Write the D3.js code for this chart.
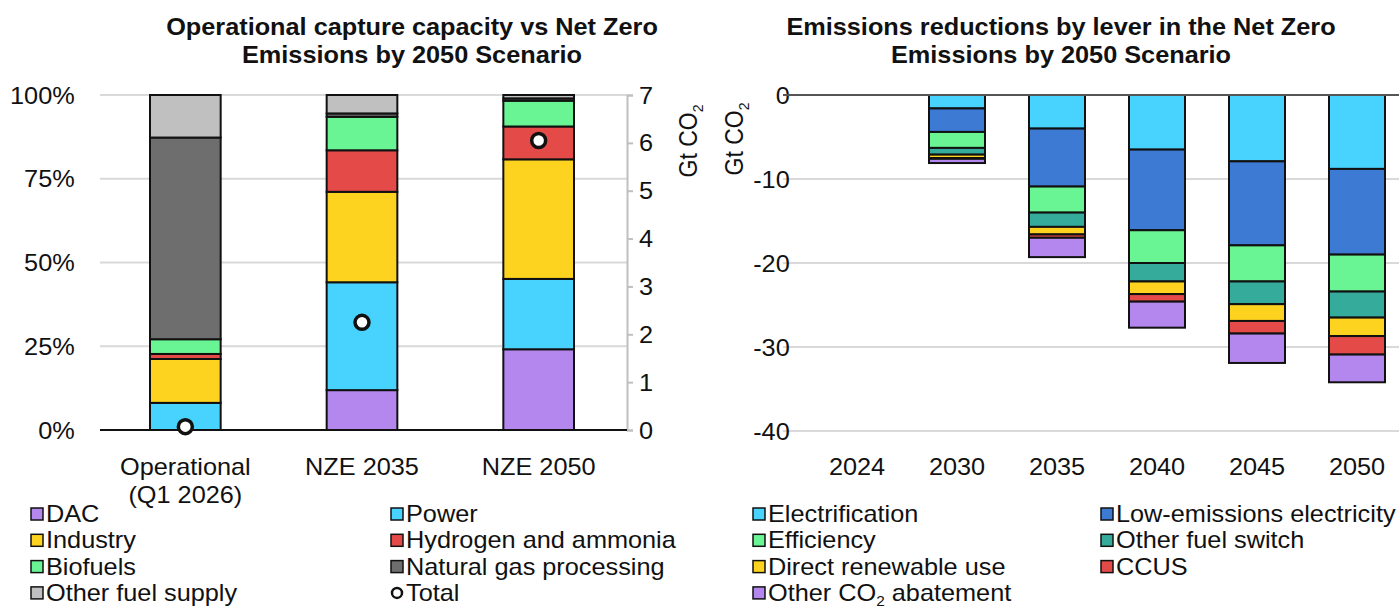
<!DOCTYPE html>
<html>
<head>
<meta charset="utf-8">
<script src="https://cdn.jsdelivr.net/npm/d3@7"></script>
<style>
  body { margin: 0; background: #fff; }
  svg text { font-family: "Liberation Sans", Arial, sans-serif; fill: #111; }
</style>
</head>
<body>
<svg></svg>
<script>
// left chart: share of capture capacity by sector (%), total in Gt CO2
var capCategories = ["Operational|(Q1 2026)", "NZE 2035", "NZE 2050"];
var dac           = [0, 11.9, 24.1];
var power         = [8.1, 32.2, 21.0];
var industry      = [13.1, 27.0, 35.7];
var hydrogen      = [1.5, 12.4, 9.8];
var biofuels      = [4.4, 10.0, 7.7];
var gasProcessing = [60.2, 1.0, 0.7];
var otherSupply   = [12.7, 5.5, 1.0];
var capTotal      = [0.07, 2.25, 6.05];
var pctTicks = [0, 25, 50, 75, 100];
var gtTicks = [0, 1, 2, 3, 4, 5, 6, 7];

// right chart: emissions reductions by lever (Gt CO2)
var years            = ["2024", "2030", "2035", "2040", "2045", "2050"];
var electrification  = [0, -1.6, -4.0, -6.5, -7.9, -8.8];
var lowEmElectricity = [0, -2.8, -6.9, -9.6, -10.0, -10.2];
var efficiency       = [0, -1.9, -3.1, -3.9, -4.3, -4.4];
var otherFuelSwitch  = [0, -0.8, -1.7, -2.2, -2.7, -3.1];
var directRenewable  = [0, -0.4, -0.9, -1.5, -2.0, -2.2];
var ccus             = [0, -0.1, -0.4, -0.9, -1.5, -2.2];
var otherAbatement   = [0, -0.5, -2.3, -3.1, -3.5, -3.3];
var redTicks = [0, -10, -20, -30, -40];

var width = 1399, height = 609;
var SX = 1.1; // text in the picture is a bit wide
var FS = 23;

var svg = d3.select("svg").attr("width", width).attr("height", height);

var col = {
  purple: "#b387ee", sky: "#48d3ff", yellow: "#fdd320", red: "#e44b48",
  green: "#6af595", dark: "#6e6e6e", grey: "#c0c0c0", blue: "#3c7ad3", teal: "#35ab9c"
};

// helper for stretched text
var label = function(parent, x, y, s, opts) {
  opts = opts || {};
  var t = parent.append("text")
    .attr("transform", "translate(" + x + "," + y + ") scale(" + SX + ",1)" + (opts.rotate ? " rotate(" + opts.rotate + ")" : ""))
    .attr("text-anchor", opts.anchor || "start")
    .style("font-size", (opts.size || FS) + "px")
    .style("font-weight", opts.bold ? "bold" : "normal")
    .text(s);
  return t;
};

// ---------- left chart ----------
var capSeries = [
  {name: "DAC", values: dac, color: col.purple},
  {name: "Power", values: power, color: col.sky},
  {name: "Industry", values: industry, color: col.yellow},
  {name: "Hydrogen and ammonia", values: hydrogen, color: col.red},
  {name: "Biofuels", values: biofuels, color: col.green},
  {name: "Natural gas processing", values: gasProcessing, color: col.dark},
  {name: "Other fuel supply", values: otherSupply, color: col.grey}
];
var capRows = capCategories.map(function(c, i) {
  var row = {cat: c};
  capSeries.forEach(function(s) { row[s.name] = s.values[i]; });
  return row;
});

var xL = d3.scaleBand().domain(capCategories).range([97, 627]).paddingInner(0.6).paddingOuter(0.3);
var yL = d3.scaleLinear().domain([0, 100]).range([430, 95]);
var yR = d3.scaleLinear().domain([0, 7]).range([430, 95]);

var left = svg.append("g");

left.append("g").selectAll("line").data(pctTicks.slice(1)).enter().append("line")
  .attr("x1", 100).attr("x2", 627)
  .attr("y1", d => yL(d)).attr("y2", d => yL(d))
  .attr("stroke", "#d9d9d9").attr("stroke-width", 2);

var yAxisL = left.append("g").attr("transform", "translate(78,0)")
  .call(d3.axisLeft(yL).tickValues(pctTicks).tickSize(0).tickPadding(3).tickFormat(d => d + "%"));
yAxisL.select(".domain").remove();
yAxisL.selectAll("text").style("font-size", FS + "px").attr("transform", "scale(" + SX + ",1)").attr("dy", "0.35em");

var yAxisR = left.append("g").attr("transform", "translate(627,0)")
  .call(d3.axisRight(yR).tickValues(gtTicks).tickSize(6).tickPadding(5).tickFormat(d => String(d)));
yAxisR.select(".domain").attr("stroke", "#bfbfbf").attr("stroke-width", 2);
yAxisR.selectAll(".tick line").attr("stroke", "#bfbfbf").attr("stroke-width", 2);
yAxisR.selectAll("text").style("font-size", FS + "px").attr("transform", "scale(" + SX + ",1)").attr("dy", "0.35em");

var capStack = d3.stack().keys(capSeries.map(s => s.name))(capRows);
left.append("g").selectAll("g").data(capStack).enter().append("g")
  .attr("fill", (d, i) => capSeries[i].color)
  .selectAll("rect").data(d => d.filter(p => p[1] - p[0] > 0)).enter().append("rect")
  .attr("x", d => xL(d.data.cat))
  .attr("width", xL.bandwidth())
  .attr("y", d => yL(d[1]))
  .attr("height", d => yL(d[0]) - yL(d[1]))
  .attr("stroke", "#111").attr("stroke-width", 2);

left.append("line").attr("x1", 100).attr("x2", 627).attr("y1", yL(0)).attr("y2", yL(0))
  .attr("stroke", "#111").attr("stroke-width", 2);

left.append("g").selectAll("circle").data(capCategories).enter().append("circle")
  .attr("cx", d => xL(d) + xL.bandwidth() / 2)
  .attr("cy", (d, i) => yR(capTotal[i]))
  .attr("r", 7).attr("fill", "#fff").attr("stroke", "#111").attr("stroke-width", 3.5);

var xAxisL = left.append("g").attr("transform", "translate(0,457)")
  .call(d3.axisBottom(xL).tickSize(0).tickPadding(0));
xAxisL.select(".domain").remove();
xAxisL.selectAll("text").each(function(d) {
  var t = d3.select(this).text(null).attr("y", 0).attr("dy", null)
    .attr("transform", "scale(" + SX + ",1)").style("font-size", FS + "px");
  d.split("|").forEach(function(line, i) {
    t.append("tspan").attr("x", 0).attr("y", 18 + i * 28).text(line);
  });
});

label(left, 412, 35, "Operational capture capacity vs Net Zero", {anchor: "middle", bold: true});
label(left, 412, 63, "Emissions by 2050 Scenario", {anchor: "middle", bold: true});
var gt1 = label(left, 697, 141, "Gt CO", {anchor: "middle", rotate: -90});
gt1.append("tspan").attr("dy", 5).style("font-size", "14px").text("2");

// ---------- right chart ----------
var redSeries = [
  {name: "Electrification", values: electrification, color: col.sky},
  {name: "Low-emissions electricity", values: lowEmElectricity, color: col.blue},
  {name: "Efficiency", values: efficiency, color: col.green},
  {name: "Other fuel switch", values: otherFuelSwitch, color: col.teal},
  {name: "Direct renewable use", values: directRenewable, color: col.yellow},
  {name: "CCUS", values: ccus, color: col.red},
  {name: "Other CO2 abatement", values: otherAbatement, color: col.purple}
];
var redRows = years.map(function(y, i) {
  var row = {year: y};
  redSeries.forEach(function(s) { row[s.name] = s.values[i]; });
  return row;
});

var xRc = d3.scaleBand().domain(years).range([807, 1407]).paddingInner(0.44).paddingOuter(0.22);
var yRc = d3.scaleLinear().domain([-40, 0]).range([431, 95]);

var right = svg.append("g");

right.append("g").selectAll("line").data(redTicks.slice(1)).enter().append("line")
  .attr("x1", 783).attr("x2", 1399)
  .attr("y1", d => yRc(d)).attr("y2", d => yRc(d))
  .attr("stroke", "#d9d9d9").attr("stroke-width", 2);

var yAxisRc = right.append("g").attr("transform", "translate(793,0)")
  .call(d3.axisLeft(yRc).tickValues(redTicks).tickSize(0).tickPadding(3).tickFormat(d => String(d)));
yAxisRc.select(".domain").remove();
yAxisRc.selectAll("text").style("font-size", FS + "px").attr("transform", "scale(" + SX + ",1)").attr("dy", "0.35em");

var redStack = d3.stack().keys(redSeries.map(s => s.name)).offset(d3.stackOffsetDiverging)(redRows);
right.append("g").selectAll("g").data(redStack).enter().append("g")
  .attr("fill", (d, i) => redSeries[i].color)
  .selectAll("rect").data(d => d.filter(p => p[1] - p[0] !== 0)).enter().append("rect")
  .attr("x", d => xRc(d.data.year))
  .attr("width", xRc.bandwidth())
  .attr("y", d => yRc(Math.max(d[0], d[1])))
  .attr("height", d => Math.abs(yRc(d[0]) - yRc(d[1])))
  .attr("stroke", "#111").attr("stroke-width", 2);

right.append("line").attr("x1", 783).attr("x2", 1399).attr("y1", yRc(0)).attr("y2", yRc(0))
  .attr("stroke", "#555").attr("stroke-width", 2);

var xAxisRc = right.append("g").attr("transform", "translate(0,457)")
  .call(d3.axisBottom(xRc).tickSize(0).tickPadding(0));
xAxisRc.select(".domain").remove();
xAxisRc.selectAll("text").attr("y", 18).attr("dy", null)
  .attr("transform", "scale(" + SX + ",1)").style("font-size", FS + "px");

label(right, 1061, 35, "Emissions reductions by lever in the Net Zero", {anchor: "middle", bold: true});
label(right, 1061, 63, "Emissions by 2050 Scenario", {anchor: "middle", bold: true});
var gt2 = label(right, 743, 139, "Gt CO", {anchor: "middle", rotate: -90});
gt2.append("tspan").attr("dy", 5).style("font-size", "14px").text("2");

// ---------- legends ----------
var legendItem = function(x, y, name, color, sub) {
  var g = svg.append("g");
  if (color === "total") {
    g.append("circle").attr("cx", x + 6).attr("cy", y).attr("r", 5)
      .attr("fill", "#fff").attr("stroke", "#111").attr("stroke-width", 2.5);
  } else {
    g.append("rect").attr("x", x).attr("y", y - 6).attr("width", 12).attr("height", 12)
      .attr("fill", color).attr("stroke", "#111").attr("stroke-width", 1.5);
  }
  var t = label(g, x + 15, y + 8, sub ? sub[0] : name);
  if (sub) {
    t.append("tspan").attr("dy", 5).style("font-size", "14px").text(sub[1]);
    t.append("tspan").attr("dy", -5).text(sub[2]);
  }
};

// rows slightly tighter than the original so the last one stays inside the frame
var legY = function(i) { return 514 + Math.floor(i / 2) * 26.3; };

var leftLegend = capSeries.map(s => ({name: s.name, color: s.color}));
leftLegend.push({name: "Total", color: "total"});
leftLegend.forEach(function(d, i) {
  legendItem(i % 2 === 0 ? 31 : 391, legY(i), d.name, d.color);
});

redSeries.forEach(function(s, i) {
  var sub = s.name === "Other CO2 abatement" ? ["Other CO", "2", " abatement"] : null;
  legendItem(i % 2 === 0 ? 753 : 1101, legY(i), s.name, s.color, sub);
});
</script>
</body>
</html>
